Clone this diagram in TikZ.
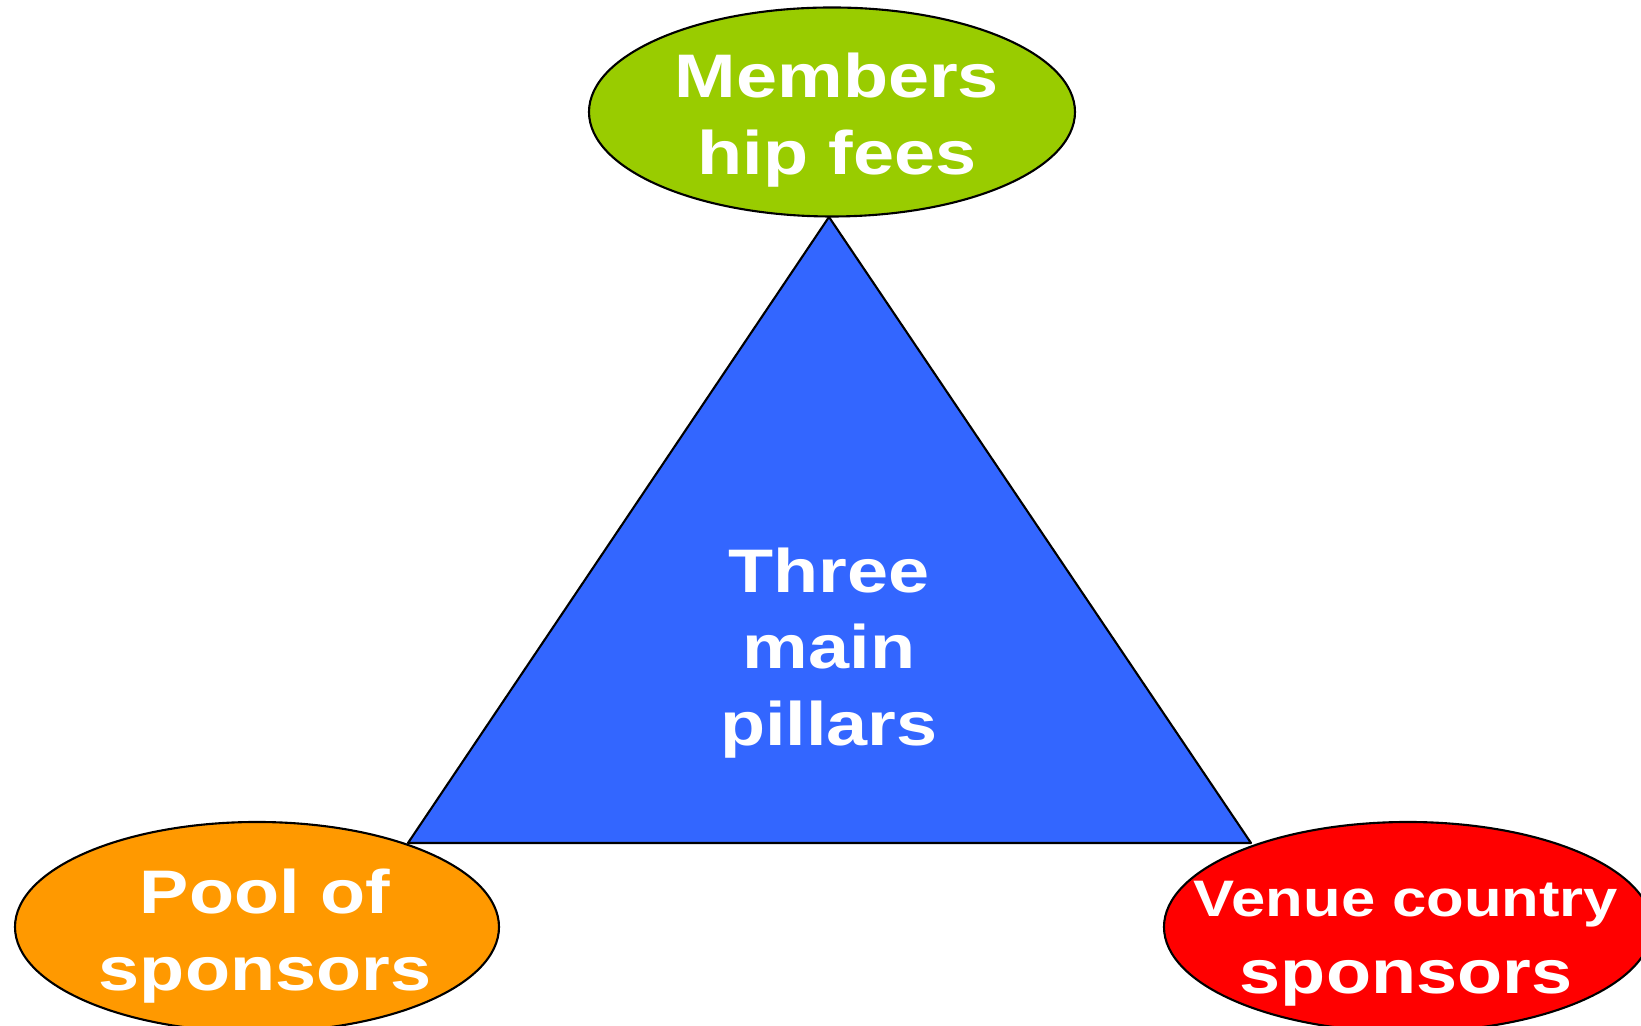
\documentclass[tikz,border=0pt]{standalone}
\usepackage{fontspec}
\usetikzlibrary{shapes.geometric}
\newfontfamily\labelfont[FakeStretch=1.2]{Liberation Sans}
\definecolor{feegreen}{HTML}{99CC00}
\definecolor{poolorange}{HTML}{FF9900}
\definecolor{venuered}{HTML}{FF0000}
\definecolor{pillarblue}{HTML}{3366FF}
\begin{document}
\begin{tikzpicture}[
    pillar/.style = {ellipse, draw = black, line width = 0.6pt, inner sep = 0pt},
    caption/.style = {text = white, align = center, inner sep = 0pt,
        font = \labelfont\bfseries\fontsize{17.5}{21.8}\selectfont}]
    \useasboundingbox (0, 0) rectangle (16.41, -10.26);
    \clip (0, 0) rectangle (16.41, -10.26);
    \coordinate (top) at (8.29, -2.17);
    \coordinate (left) at (4.08, -8.43);
    \coordinate (right) at (12.51, -8.43);
    \draw [fill = pillarblue, line width = 0.6pt, line join = round] (top) -- (left) -- (right) -- cycle;
    \node [pillar, fill = feegreen, minimum width = 4.86cm, minimum height = 2.09cm] (fees) at (8.32, -1.12) {};
    \node [pillar, fill = poolorange, minimum width = 4.84cm, minimum height = 2.1cm] (pool) at (2.57, -9.27) {};
    \node [pillar, fill = venuered, minimum width = 4.88cm, minimum height = 2.1cm] (venue) at (14.08, -9.27) {};
    \node [caption] (feestext) at (8.37, -1.2) {Members\\hip fees};
    \node [caption] (pillarstext) at (8.29, -6.53) {Three\\main\\pillars};
    \node [caption] (pooltext) at (2.65, -9.36) {Pool of\\sponsors};
    \node [caption] (venuetext) at (14.06, -9.44) {{\fontsize{14.6}{21.8}\selectfont Venue country}\\sponsors};
\end{tikzpicture}
\end{document}
